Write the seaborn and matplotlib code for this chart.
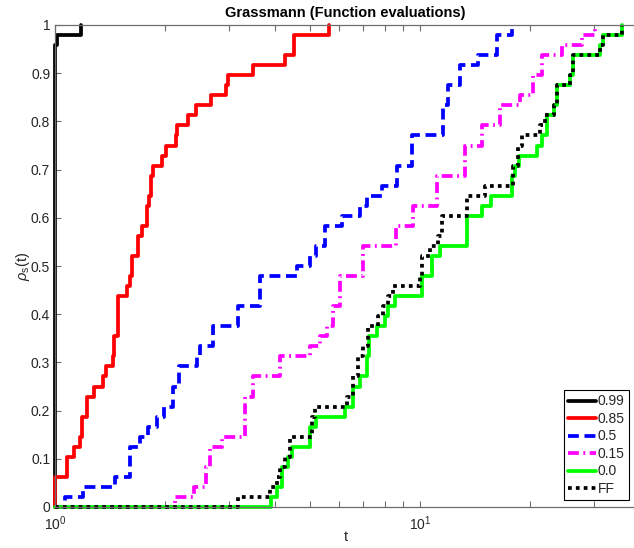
import matplotlib
matplotlib.use("Agg")
import matplotlib.pyplot as plt
import seaborn as sns
import pandas as pd

# ---- data (performance profiles, step functions) ----
black_t = [1.0, 1.0, 1.011, 1.176]
black_rho = [0.0, 0.958, 0.979, 1.0]

red_t = [1.0, 1.0, 1.081, 1.127, 1.171, 1.188, 1.221, 1.279, 1.356, 1.377, 1.439, 1.454,
         1.491, 1.578, 1.605, 1.628, 1.685, 1.728, 1.783, 1.81, 1.83, 1.86, 1.96, 2.02,
         2.15, 2.16, 2.32, 2.44, 2.68, 2.95, 2.98, 3.48, 4.27, 4.52, 5.62]
red_rho = [0.0, 0.0625, 0.104, 0.125, 0.146, 0.1875, 0.229, 0.25, 0.271, 0.292, 0.3125,
           0.354, 0.4375, 0.458, 0.479, 0.521, 0.5625, 0.583, 0.625, 0.646, 0.6875, 0.708,
           0.729, 0.75, 0.771, 0.792, 0.8125, 0.833, 0.854, 0.875, 0.896, 0.917, 0.9375,
           0.979, 1.0]

blue_t = [1.0, 1.065, 1.195, 1.46, 1.605, 1.71, 1.801, 1.903, 1.989, 2.099, 2.186, 2.444,
          2.496, 2.715, 3.178, 3.643, 4.594, 4.996, 5.19, 5.49, 6.10, 6.85, 7.14, 7.85,
          8.63, 9.51, 11.58, 11.96, 12.87, 14.44, 16.23, 17.83]
blue_rho = [0.0, 0.021, 0.042, 0.0625, 0.125, 0.146, 0.167, 0.1875, 0.208, 0.25, 0.292,
            0.3125, 0.333, 0.375, 0.417, 0.479, 0.5, 0.521, 0.542, 0.583, 0.604, 0.625,
            0.646, 0.667, 0.708, 0.771, 0.833, 0.875, 0.917, 0.938, 0.979, 1.0]

mag_t = [1.0, 2.13, 2.41, 2.60, 2.66, 2.862, 3.315, 3.494, 4.135, 5.0, 5.32, 5.55, 5.79,
         6.04, 6.99, 8.6, 9.59, 11.11, 13.28, 14.76, 16.56, 18.79, 20.44, 21.54, 24.45,
         27.73, 30.17]
mag_rho = [0.0, 0.021, 0.042, 0.083, 0.125, 0.146, 0.229, 0.271, 0.3125, 0.333, 0.354,
           0.375, 0.417, 0.479, 0.542, 0.583, 0.625, 0.6875, 0.75, 0.792, 0.833, 0.854,
           0.896, 0.9375, 0.958, 0.979, 1.0]

green_t = [1.0, 3.92, 4.05, 4.195, 4.357, 4.45, 5.0, 5.18, 6.23, 6.57, 6.85, 7.14, 7.26,
           7.61, 8.02, 8.19, 8.54, 10.11, 10.77, 11.34, 13.43, 14.76, 15.62, 17.83, 18.2,
           18.71, 20.88, 21.54, 22.24, 23.29, 23.69, 25.76, 26.3, 31.13, 31.8, 35.7]
green_rho = [0.0, 0.021, 0.042, 0.083, 0.104, 0.125, 0.167, 0.1875, 0.208, 0.25, 0.271,
             0.3125, 0.354, 0.375, 0.396, 0.417, 0.4375, 0.479, 0.521, 0.542, 0.604, 0.625,
             0.646, 0.6875, 0.708, 0.729, 0.75, 0.771, 0.8125, 0.833, 0.875, 0.896, 0.9375,
             0.958, 0.979, 1.0]

ff_t = [1.0, 3.178, 3.88, 4.05, 4.135, 4.27, 4.40, 5.05, 5.16, 6.30, 6.57, 6.78, 6.99,
        7.22, 7.69, 7.94, 8.19, 8.45, 10.0, 10.11, 10.65, 11.22, 11.5, 13.43, 15.07, 18.02,
        18.6, 19.0, 21.33, 22.0, 23.29, 23.69, 25.76, 26.3, 31.13, 31.8, 35.7]
ff_rho = [0.0, 0.021, 0.042, 0.0625, 0.083, 0.104, 0.146, 0.1875, 0.208, 0.229, 0.271,
          0.3125, 0.333, 0.375, 0.396, 0.417, 0.4375, 0.458, 0.479, 0.521, 0.542, 0.5625,
          0.604, 0.646, 0.667, 0.708, 0.75, 0.771, 0.792, 0.8125, 0.833, 0.875, 0.896,
          0.9375, 0.958, 0.979, 1.0]

labels = ["0.99", "0.85", "0.5", "0.15", "0.0", "FF"]
y_ticks = [0, 0.1, 0.2, 0.3, 0.4, 0.5, 0.6, 0.7, 0.8, 0.9, 1]
y_ticklabels = ["0", "0.1", "0.2", "0.3", "0.4", "0.5", "0.6", "0.7", "0.8", "0.9", "1"]

# ---- style ----
sns.set_theme(style="white")
plt.rcParams["font.family"] = ["Liberation Sans", "DejaVu Sans"]
plt.rcParams["mathtext.fontset"] = "custom"
plt.rcParams["mathtext.rm"] = "Liberation Sans"
plt.rcParams["mathtext.it"] = "Liberation Sans:italic"

W, H = 634, 548
fig = plt.figure(figsize=(W / 100, H / 100), dpi=100)
ax = fig.add_axes([55 / W, 1 - 507 / H, (636 - 55) / W, (507 - 25) / H])

series = [
    (black_t, black_rho, "#000000", "-"),
    (red_t, red_rho, "#ff0000", "-"),
    (blue_t, blue_rho, "#0000ff", (0, (2.9, 1.5))),
    (mag_t, mag_rho, "#ff00ff", (0, (2.9, 1.2, 0.5, 1.2))),
    (green_t, green_rho, "#00ff00", "-"),
    (ff_t, ff_rho, "#000000", (0, (1.0, 1.1))),
]

lw = 2.7
for (t, r, c, ls), lab in zip(series, labels):
    df = pd.DataFrame({"t": t, "rho": r})
    sns.lineplot(data=df, x="t", y="rho", ax=ax, estimator=None, sort=False,
                 drawstyle="steps-post", color=c, linestyle=ls, linewidth=lw,
                 label=lab, clip_on=False)

ax.set_xscale("log")
ax.set_xlim(1, 39.1)
ax.set_ylim(0, 1)
ax.set_yticks(y_ticks)
ax.set_yticklabels(y_ticklabels)

for s in ["top", "bottom", "left"]:
    ax.spines[s].set_color("#6e6e6e")
    ax.spines[s].set_linewidth(0.9)
ax.spines["right"].set_visible(False)

ax.tick_params(axis="both", which="both", direction="in", colors="#6e6e6e",
               labelcolor="#262626", labelsize=10, length=4, width=0.8)
ax.tick_params(axis="x", which="both", top=True, bottom=True)
ax.tick_params(axis="y", which="both", left=True, right=False)
ax.tick_params(axis="x", which="major", pad=5)

ax.set_title("Grassmann (Function evaluations)", fontsize=10.5, fontweight="bold",
             color="#000000", pad=6)
ax.set_xlabel("t", fontsize=10.5, color="#262626")
ax.xaxis.set_label_coords(0.5, -0.048)
ax.xaxis.label.set_va("top")
ax.set_ylabel(r"$\rho_{\mathrm{s}}$(t)", fontsize=10.5, color="#262626")
ax.yaxis.set_label_coords(-0.04, 0.5)

leg = ax.legend(loc="lower right", bbox_to_anchor=(629 / W, 1 - 500 / H),
                bbox_transform=fig.transFigure, fontsize=10, frameon=True,
                fancybox=False, framealpha=1, edgecolor="#000000",
                handlelength=2.0, handletextpad=0.15, labelspacing=0.25,
                borderpad=0.3, borderaxespad=0)
leg.get_frame().set_linewidth(0.8)

fig.savefig("out.png", dpi=100)
